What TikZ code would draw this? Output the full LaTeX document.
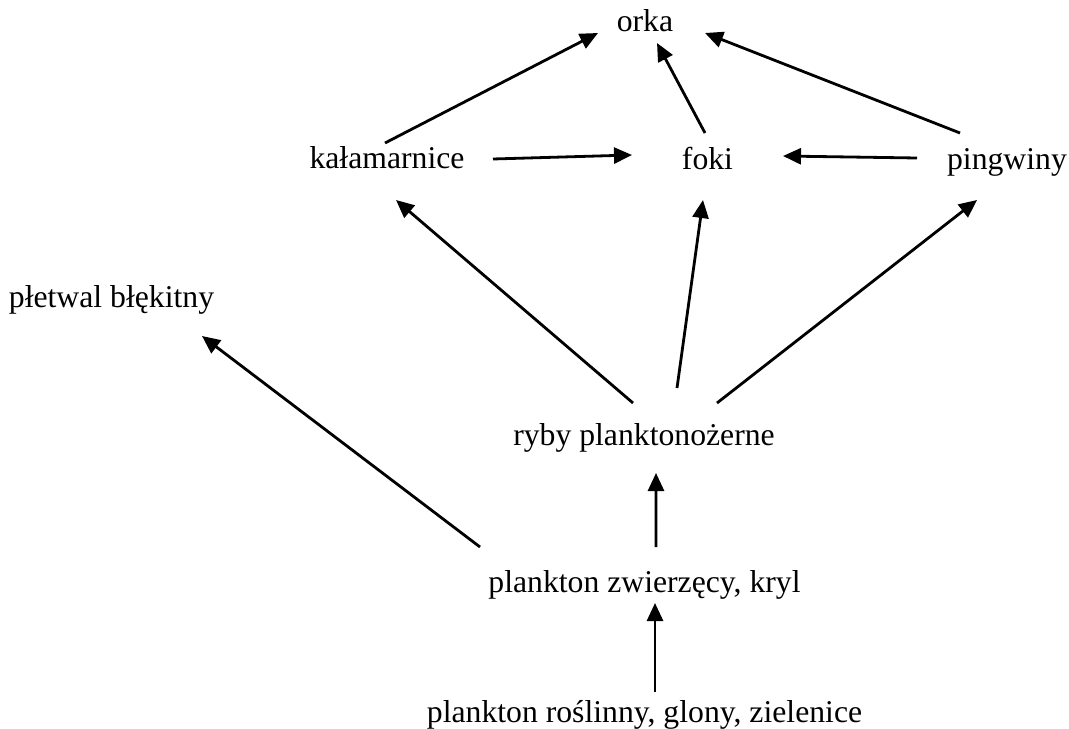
\documentclass[tikz,border=0pt]{standalone}
\usepackage{fontspec}
\setmainfont{Liberation Serif}
\usetikzlibrary{arrows.meta}
\begin{document}
\begin{tikzpicture}[x=1bp,y=-1bp,
  lbl/.style={anchor=base,inner sep=0pt,font=\rmfamily\fontsize{31.7bp}{38bp}\selectfont},
  arr/.style={line width=2.8bp,-{Triangle[length=18bp,width=16bp]}}]
\useasboundingbox (0,0) rectangle (1069,729);
\node[lbl] (orka) at (645,32) {orka};
\node[lbl] (kal) at (387,169) {kałamarnice};
\node[lbl] (foki) at (707.5,170) {foki};
\node[lbl] (ping) at (1007,170) {pingwiny};
\node[lbl] (plet) at (111.5,307) {płetwal błękitny};
\node[lbl] (ryby) at (644,445) {ryby planktonożerne};
\node[lbl] (zw) at (644.5,592) {plankton zwierzęcy, kryl};
\node[lbl] (ros) at (644.5,722) {plankton roślinny, glony, zielenice};
\draw[arr] ([shift={(-2,-26)}]kal.base) -- ([shift={(-47,1)}]orka.base);
\draw[arr] ([shift={(-2.5,-37)}]foki.base) -- ([shift={(12,11)}]orka.base);
\draw[arr] ([shift={(-47,-37)}]ping.base) -- ([shift={(60,1)}]orka.base);
\draw[arr] ([shift={(106,-10)}]kal.base) -- ([shift={(-75.5,-15)}]foki.base);
\draw[arr] ([shift={(-90,-12)}]ping.base) -- ([shift={(75.5,-14)}]foki.base);
\draw[arr] ([shift={(-11,-42)}]ryby.base) -- ([shift={(9,31)}]kal.base);
\draw[arr] ([shift={(33,-57)}]ryby.base) -- ([shift={(-4.5,30)}]foki.base);
\draw[arr] ([shift={(73,-42)}]ryby.base) -- ([shift={(-30,30)}]ping.base);
\draw[arr] ([shift={(-164.5,-45)}]zw.base) -- ([shift={(90.5,29)}]plet.base);
\draw[arr] ([shift={(11.5,-45)}]zw.base) -- ([shift={(12,28)}]ryby.base);
\draw[arr] ([shift={(10.5,-30)}]ros.base) -- ([shift={(10.5,11)}]zw.base);
\end{tikzpicture}
\end{document}
